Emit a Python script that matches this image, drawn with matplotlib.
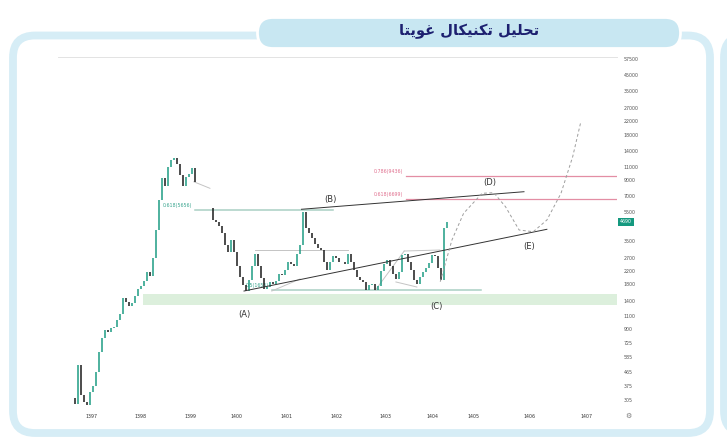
import numpy as np
import matplotlib
matplotlib.use("Agg")
import matplotlib.pyplot as plt
from matplotlib.patches import FancyBboxPatch
from matplotlib.ticker import FixedLocator, NullLocator
from matplotlib import font_manager
from matplotlib.ft2font import FT2Font

title_text = "تحلیل تکنیکال غویتا"

# weekly closes (nan = bars hidden behind the drawing)
bar_start = 1396.59
bar_step = 0.0616
closes = [
    312, 285, 520, 327, 294, 281, 343, 377, 467, 634,
    787, 890, 863, 918, 932, 1038, 1138, 1456, 1369, 1289,
    1350, 1502, 1672, 1751, 1891, 2171, 2043, 2694, 4143, 6573,
    9220, 8152, 10922, 12162, 12540, 11437, 9656, 8152, 9363, 9806,
    10755, 8672, np.nan, np.nan, np.nan, np.nan, 5810, 4832, 4686, 4407,
    3957, 3290, 2954, 3553, 2954, 2381, 2012, 1778, 1621, 1920,
    2381, 2865, 2381, 1981, 1672, 1724, 1863, 1806, 1891, 2106,
    2074, 2239, 2532, 2456, 2381, 2865, 3290, 5466, 4272, 3957,
    3664, 3341, 3141, 3046, 2532, 2239, 2532, 2778, 2694, 2532,
    2532, 2456, 2865, 2532, 2239, 2012, 1920, 1863, 1646, 1778,
    1806, 1646, 1751, 2205, 2456, 2612, 2381, 2106, 1950, 2171,
    2821, 2865, 2532, 2239, 1920, 1806, 2012, 2171, 2310, 2494,
    2821, 2778, 2310, 1920, 4272, 4690,
]
last_price = 4690

y_ticks = [57500, 45000, 35000, 27000, 22000, 18000, 14000, 11000, 9000, 7000,
           5500, 3500, 2700, 2200, 1800, 1400, 1100, 900, 725, 585, 465, 375, 305]
x_tick_pos = [1397.0, 1398.0, 1399.02, 1399.98, 1401.01, 1402.03, 1403.04,
              1404.0, 1404.85, 1406.0, 1407.17]
x_tick_labels = ["1397", "1398", "1399", "1400", "1401", "1402", "1403",
                 "1404", "1405", "1406", "1407"]

# support zone
zone_start = 1398.05
zone_low, zone_high = 1307, 1549

# fibonacci levels: (start, end, price, label)
fib_green = [(1399.12, 1401.96, 5656, "0.618(5656)"),
             (1400.70, 1404.99, 1655, "0.5(1655)")]
fib_red = [(1403.45, None, 9436, "0.786(9436)"),
           (1403.45, None, 6699, "0.618(6699)")]

# channel lines
upper_t, upper_p = [1401.31, 1405.88], [5700, 7467]
lower_t, lower_p = [1400.13, 1406.35], [1621, 4188]

# thin grey wave sketch lines
grey_lines = [
    ([1399.10, 1399.43], [8700, 7870]),
    ([1400.35, 1402.27], [3046, 3046]),
    ([1400.70, 1401.28], [1621, 1950]),
    ([1402.83, 1403.42], [1646, 2999]),
    ([1403.42, 1404.15], [2999, 3046]),
    ([1403.25, 1403.68], [1863, 1724]),
]

# projected path
proj_t = [1404.16, 1404.40, 1404.64, 1405.02, 1405.26, 1405.50, 1405.78,
          1406.07, 1406.35, 1406.64, 1406.88, 1407.04]
proj_p = [1870, 3553, 5358, 7288, 7355, 5929, 4143, 4035, 4832, 7288, 12795, 21380]

wave_names = ["(A)", "(B)", "(C)", "(D)", "(E)"]
wave_t = [1400.13, 1401.91, 1404.09, 1405.18, 1405.98]
wave_p = [1133, 6675, 1287, 8577, 3205]


def shape_persian(text):
    # contextual forms: isolated, final, initial, medial
    forms = {
        "ت": ("\uFE95", "\uFE96", "\uFE97", "\uFE98"),
        "ح": ("\uFEA1", "\uFEA2", "\uFEA3", "\uFEA4"),
        "ل": ("\uFEDD", "\uFEDE", "\uFEDF", "\uFEE0"),
        "ی": ("\uFBFC", "\uFBFD", "\uFBFE", "\uFBFF"),
        "ک": ("\uFB8E", "\uFB8F", "\uFB90", "\uFB91"),
        "ن": ("\uFEE5", "\uFEE6", "\uFEE7", "\uFEE8"),
        "غ": ("\uFECD", "\uFECE", "\uFECF", "\uFED0"),
        "ا": ("\uFE8D", "\uFE8E", None, None),
        "و": ("\uFEED", "\uFEEE", None, None),
    }
    fallback = {
        "ی": ("\uFEEF", "\uFEF0", "\uFEF3", "\uFEF4"),
        "ک": ("\uFED9", "\uFEDA", "\uFEDB", "\uFEDC"),
    }
    path = font_manager.findfont(font_manager.FontProperties(family="DejaVu Sans", weight="bold"))
    ft = FT2Font(path)
    for k, v in fallback.items():
        if not all(ft.get_char_index(ord(c)) for c in forms[k]):
            forms[k] = v
    words = []
    for w in text.split():
        out = ""
        for i, ch in enumerate(w):
            prev_join = i > 0 and forms[w[i - 1]][2] is not None
            next_join = i < len(w) - 1 and forms[ch][2] is not None
            if prev_join and next_join:
                out += forms[ch][3]
            elif prev_join:
                out += forms[ch][1]
            elif next_join:
                out += forms[ch][2]
            else:
                out += forms[ch][0]
        words.append(out[::-1])
    return " ".join(words[::-1])


W, H = 727, 446
fig = plt.figure(figsize=(W / 100, H / 100), dpi=100)
fig.patch.set_facecolor("white")

# frame / banner layer in pixel units
bg = fig.add_axes([0, 0, 1, 1])
bg.set_xlim(0, W)
bg.set_ylim(H, 0)
bg.axis("off")

frame_blue = "#d6edf6"
bg.add_patch(FancyBboxPatch((13, 35.5), 697, 397.5, boxstyle="round,pad=0,rounding_size=22",
                            fc="white", ec=frame_blue, lw=5.6))
bg.add_patch(FancyBboxPatch((724, 35.5), 200, 397.5, boxstyle="round,pad=0,rounding_size=22",
                            fc="white", ec=frame_blue, lw=5.6))
bg.add_patch(FancyBboxPatch((257.5, 17.5), 423, 31, boxstyle="round,pad=0,rounding_size=15.5",
                            fc="#c8e7f2", ec="white", lw=2.0))
bg.text(469, 31.5, shape_persian(title_text), ha="center", va="center",
        fontsize=10.5, fontweight="bold", color="#1d2070", family=["DejaVu Sans"])

# chart
ax = fig.add_axes([58 / W, 1 - 410 / H, (617 - 58) / W, (410 - 57) / H])
ax.patch.set_alpha(0)
ax.set_yscale("log")
ax.set_ylim(260, 59300)
ax.set_xlim(1396.31, 1407.79)

c = np.array(closes, dtype=float)
t = bar_start + bar_step * np.arange(len(c))
o = np.r_[np.nan, c[:-1]]
o = np.where(np.isnan(o), c, o)
ok = ~np.isnan(c)
up = ok & (c >= o)
dn = ok & (c < o)
green = "#1e9c84"
ax.vlines(t[up], o[up], c[up], color=green, lw=1.1, zorder=3)
ax.vlines(t[dn], c[dn], o[dn], color="#1b1b1b", lw=1.1, zorder=3)

ax.fill_between([zone_start, 1407.79], zone_low, zone_high, color="#dcefdc", lw=0, zorder=0)

for t0, t1, p, lab in fib_green:
    ax.plot([t0, t1], [p, p], color="#a9cfc3", lw=1.1, zorder=1)
    ax.annotate(lab, (t0, p), xytext=(-2, 1.5), textcoords="offset points",
                ha="right", va="bottom", fontsize=3.4, color="#3aa58f", zorder=1)
for t0, t1, p, lab in fib_red:
    ax.plot([t0, 1407.79 if t1 is None else t1], [p, p], color="#e38ea4", lw=0.9, zorder=1)
    ax.annotate(lab, (t0, p), xytext=(-2, 1.5), textcoords="offset points",
                ha="right", va="bottom", fontsize=3.4, color="#e0708f", zorder=1)

for gt, gp in grey_lines:
    ax.plot(gt, gp, color="#c4c4c4", lw=0.7, zorder=2)

ax.plot(upper_t, upper_p, color="#333333", lw=0.7, zorder=4)
ax.plot(lower_t, lower_p, color="#333333", lw=0.7, zorder=4)
ax.plot(proj_t, proj_p, color="#9e9e9e", lw=0.7, ls=(0, (3, 2.5)), zorder=4)

for name, wt, wp in zip(wave_names, wave_t, wave_p):
    ax.text(wt, wp, name, ha="center", va="center", fontsize=6, color="#333333", zorder=5)

# axes styling
for s in ["left", "right", "bottom"]:
    ax.spines[s].set_visible(False)
ax.spines["top"].set_color("#e3e3e3")
ax.spines["top"].set_linewidth(0.7)
ax.yaxis.tick_right()
ax.yaxis.set_major_locator(FixedLocator(y_ticks))
ax.yaxis.set_minor_locator(NullLocator())
ax.set_yticklabels([str(v) for v in y_ticks])
ax.xaxis.set_major_locator(FixedLocator(x_tick_pos))
ax.set_xticklabels(x_tick_labels)
ax.tick_params(axis="y", length=0, pad=5, labelsize=3.4, labelcolor="#555555")
ax.tick_params(axis="x", length=0, pad=3, labelsize=3.4, labelcolor="#333333")

ax.text(1.016, last_price, str(last_price), transform=ax.get_yaxis_transform(),
        ha="center", va="center", fontsize=3.4, color="white", zorder=6, clip_on=False,
        bbox=dict(boxstyle="square,pad=0.35", fc="#14997f", ec="none"))
fig.text(628 / W, 1 - 416 / H, "\u2699", ha="center", va="center", fontsize=5, color="#777777")

fig.savefig("out.png", dpi=100)
